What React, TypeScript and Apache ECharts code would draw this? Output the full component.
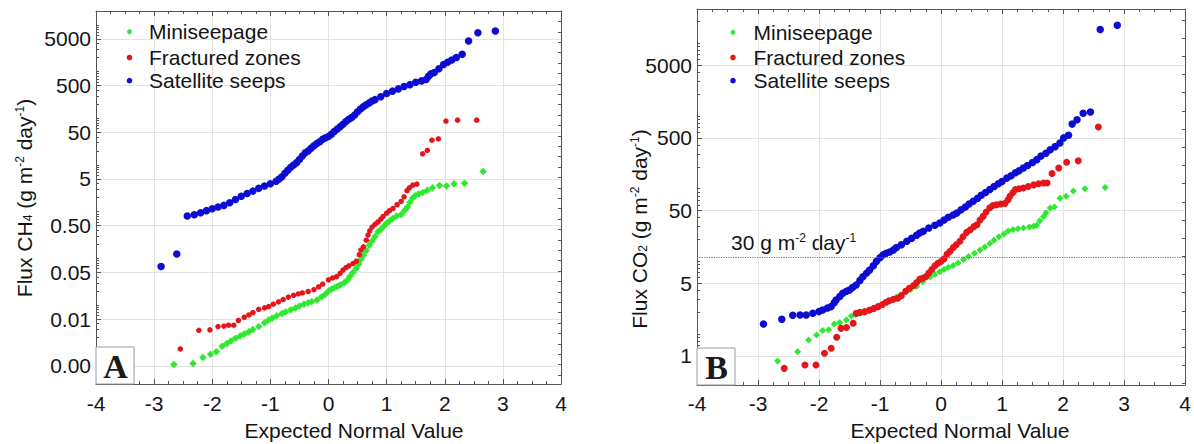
import React, { useEffect, useRef } from "react";
import * as echarts from "echarts";

// ---------- categories / ticks ----------
const legendNames = ["Miniseepage", "Fractured zones", "Satellite seeps"];
const xMinMax = [-4, 4];

const yTickValuesA = [0.0005, 0.005, 0.05, 0.5, 5, 50, 500, 5000];
const yTickLabelsA = ["0.00", "0.01", "0.05", "0.50", "5", "50", "500", "5000"];
const yRangeA = [0.000204, 19770];

const yTickValuesB = [0.5, 5, 50, 500, 5000];
const yTickLabelsB = ["1", "5", "50", "500", "5000"];
const yRangeB = [0.1995, 29650];

// dotted reference line in panel B (position)
const thresholdCO2 = 11.6;

// ---------- Panel A: CH4 flux vs expected normal value ----------
const ch4Miniseepage: [number, number][] = [
  [-2.66, 0.000536], [-2.33, 0.000561], [-2.16, 0.000757], [-2.03, 0.000889], [-1.93, 0.000998],
  [-1.83, 0.00132], [-1.75, 0.00151], [-1.68, 0.00169], [-1.6, 0.00195], [-1.52, 0.00218],
  [-1.45, 0.00239], [-1.37, 0.00269], [-1.3, 0.00301], [-1.2, 0.00346], [-1.1, 0.00416],
  [-1.03, 0.00478], [-0.97, 0.00524], [-0.89, 0.00587], [-0.8, 0.00659], [-0.74, 0.00706],
  [-0.65, 0.00792], [-0.57, 0.00869], [-0.5, 0.00953], [-0.42, 0.01045], [-0.35, 0.0112],
  [-0.29, 0.0117], [-0.2, 0.0129], [-0.12, 0.0148], [-0.06, 0.0169], [0.0, 0.0199],
  [0.05, 0.0218], [0.1, 0.0234], [0.15, 0.0251], [0.2, 0.0269], [0.27, 0.0301],
  [0.33, 0.0346], [0.37, 0.0416], [0.42, 0.05], [0.48, 0.0615], [0.52, 0.0757],
  [0.56, 0.0953], [0.6, 0.117], [0.65, 0.148], [0.7, 0.19], [0.75, 0.234],
  [0.8, 0.294], [0.85, 0.37], [0.9, 0.416], [0.95, 0.489], [1.0, 0.561],
  [1.05, 0.63], [1.1, 0.706], [1.17, 0.811], [1.25, 0.869], [1.31, 1.07],
  [1.36, 1.26], [1.4, 1.58], [1.45, 1.99], [1.49, 2.18], [1.55, 2.39],
  [1.62, 2.56], [1.7, 2.88], [1.79, 3.23], [1.91, 3.62], [2.03, 3.54],
  [2.16, 3.97], [2.34, 4.07], [2.66, 7.24],
];

const ch4Fractured: [number, number][] = [
  [-2.55, 0.00115], [-2.23, 0.00288], [-2.04, 0.00294], [-1.9, 0.00346], [-1.8, 0.00354],
  [-1.72, 0.0037], [-1.63, 0.0037], [-1.55, 0.00467], [-1.45, 0.00548], [-1.37, 0.00615],
  [-1.3, 0.0069], [-1.2, 0.0081], [-1.1, 0.0087], [-1.03, 0.0093], [-0.95, 0.01045],
  [-0.86, 0.0117], [-0.78, 0.0131], [-0.69, 0.0148], [-0.6, 0.0162], [-0.52, 0.0173],
  [-0.45, 0.0182], [-0.35, 0.0195], [-0.25, 0.0213], [-0.17, 0.0245], [-0.1, 0.0281],
  [0.0, 0.0346], [0.07, 0.038], [0.14, 0.0407], [0.2, 0.0477], [0.25, 0.056],
  [0.3, 0.063], [0.35, 0.069], [0.42, 0.0775], [0.48, 0.087], [0.53, 0.12],
  [0.56, 0.151], [0.6, 0.177], [0.65, 0.245], [0.68, 0.315], [0.71, 0.388],
  [0.75, 0.467], [0.8, 0.536], [0.85, 0.6], [0.9, 0.69], [0.94, 0.79],
  [1.0, 0.93], [1.05, 1.05], [1.11, 1.17], [1.18, 1.41], [1.25, 1.66],
  [1.3, 2.08], [1.35, 2.81], [1.39, 3.23], [1.45, 3.71], [1.52, 3.88],
  [1.62, 17.3], [1.7, 20.4], [1.78, 33.8], [1.89, 36.2], [2.02, 87],
  [2.22, 91], [2.55, 91],
];

const ch4Satellite: [number, number][] = [
  [-2.88, 0.067], [-2.61, 0.124], [-2.43, 0.81], [-2.31, 0.86], [-2.2, 0.95],
  [-2.1, 1.05], [-2.0, 1.15], [-1.9, 1.26], [-1.8, 1.36], [-1.7, 1.55],
  [-1.6, 1.82], [-1.5, 2.13], [-1.4, 2.45], [-1.3, 2.75], [-1.2, 3.15],
  [-1.1, 3.54], [-1.0, 3.97], [-0.9, 4.46], [-0.85, 5.0], [-0.8, 5.6],
  [-0.75, 6.6], [-0.7, 7.7], [-0.65, 8.9], [-0.6, 10.0], [-0.55, 11.2],
  [-0.5, 13.1], [-0.45, 15.5], [-0.4, 18.2], [-0.35, 20.0], [-0.3, 22.9],
  [-0.25, 25.6], [-0.2, 28.8], [-0.15, 31.5], [-0.1, 35.4], [-0.05, 38.0],
  [0.0, 40.6], [0.05, 45.6], [0.1, 52], [0.15, 59], [0.2, 66],
  [0.25, 74], [0.3, 85], [0.35, 95], [0.4, 104], [0.45, 117],
  [0.5, 138], [0.55, 158], [0.6, 177], [0.65, 195], [0.7, 213],
  [0.75, 234], [0.8, 250], [0.9, 288], [1.0, 338], [1.1, 380],
  [1.2, 425], [1.3, 477], [1.4, 524], [1.5, 587], [1.6, 630],
  [1.68, 675], [1.72, 792], [1.76, 890], [1.82, 953], [1.9, 1146],
  [1.98, 1410], [2.05, 1580], [2.12, 1770], [2.2, 1990], [2.3, 2340],
  [2.41, 4510], [2.57, 6790], [2.87, 7390],
];

// ---------- Panel B: CO2 flux vs expected normal value ----------
const co2Miniseepage: [number, number][] = [
  [-2.68, 0.426], [-2.35, 0.574], [-2.17, 0.83], [-2.04, 0.975], [-1.94, 1.12],
  [-1.84, 1.15], [-1.75, 1.38], [-1.66, 1.44], [-1.55, 1.56], [-1.47, 1.77],
  [-1.4, 1.86], [-1.33, 1.9], [-1.26, 1.99], [-1.18, 2.08], [-1.1, 2.23],
  [-1.03, 2.39], [-0.96, 2.56], [-0.88, 2.75], [-0.8, 2.94], [-0.73, 3.23],
  [-0.66, 3.46], [-0.58, 3.79], [-0.5, 4.06], [-0.4, 4.5], [-0.3, 5.24],
  [-0.18, 6.1], [-0.1, 6.6], [-0.02, 7.23], [0.05, 7.74], [0.12, 8.3],
  [0.2, 8.79], [0.28, 9.53], [0.37, 10.6], [0.45, 11.7], [0.55, 12.9],
  [0.64, 14.4], [0.72, 15.8], [0.8, 17.7], [0.87, 19.5], [0.95, 21.8],
  [1.03, 23.9], [1.1, 26.2], [1.18, 27.5], [1.26, 28.1], [1.35, 28.8],
  [1.45, 29.8], [1.52, 30.4], [1.57, 31.5], [1.62, 36.2], [1.68, 41.6],
  [1.72, 46.7], [1.79, 54.3], [1.86, 56.1], [1.95, 74.0], [2.05, 78.7],
  [2.17, 93.1], [2.36, 99.8], [2.69, 104],
];

const co2Fractured: [number, number][] = [
  [-2.57, 0.338], [-2.23, 0.376], [-2.05, 0.376], [-1.91, 0.544], [-1.8, 0.638],
  [-1.71, 0.904], [-1.64, 1.2], [-1.55, 1.23], [-1.44, 1.41], [-1.39, 1.93],
  [-1.33, 1.99], [-1.25, 2.04], [-1.17, 2.15], [-1.1, 2.26], [-1.03, 2.39],
  [-0.96, 2.56], [-0.9, 2.75], [-0.85, 2.88], [-0.78, 3.01], [-0.71, 3.11],
  [-0.65, 3.38], [-0.58, 3.88], [-0.52, 4.27], [-0.45, 4.67], [-0.4, 5.12],
  [-0.345, 5.74], [-0.3, 5.87], [-0.25, 6.15], [-0.2, 6.9], [-0.15, 7.74],
  [-0.1, 8.69], [-0.05, 9.42], [0.0, 9.98], [0.05, 10.9], [0.1, 12.6],
  [0.15, 13.8], [0.2, 15.5], [0.25, 16.9], [0.31, 18.9], [0.36, 21.8],
  [0.42, 25.1], [0.48, 27.3], [0.54, 30.1], [0.59, 32.0], [0.64, 37.1],
  [0.69, 41.6], [0.74, 47.8], [0.8, 54.8], [0.85, 58.7], [0.91, 60.1],
  [0.98, 61.5], [1.05, 62.9], [1.1, 70.6], [1.13, 78.7], [1.18, 88.9],
  [1.22, 97.5], [1.28, 99.8], [1.35, 102], [1.43, 107], [1.52, 113],
  [1.6, 117], [1.68, 120], [1.74, 120], [1.82, 162], [1.93, 193],
  [2.06, 231], [2.25, 243], [2.58, 706],
];

const co2Satellite: [number, number][] = [
  [-2.91, 1.38], [-2.61, 1.6], [-2.43, 1.82], [-2.31, 1.83], [-2.21, 1.83],
  [-2.1, 1.93], [-2.0, 2.04], [-1.94, 2.15], [-1.86, 2.29], [-1.8, 2.39],
  [-1.75, 2.69], [-1.72, 2.94], [-1.66, 3.3], [-1.61, 3.64], [-1.55, 3.88],
  [-1.5, 4.05], [-1.45, 4.36], [-1.39, 4.74], [-1.33, 5.48], [-1.28, 6.15],
  [-1.22, 6.9], [-1.17, 7.62], [-1.11, 8.69], [-1.06, 9.98], [-1.0, 11.2],
  [-0.95, 12.3], [-0.9, 12.9], [-0.84, 13.5], [-0.78, 14.4], [-0.73, 15.5],
  [-0.65, 16.9], [-0.56, 18.9], [-0.48, 20.8], [-0.4, 22.9], [-0.35, 24.5],
  [-0.29, 25.9], [-0.2, 28.8], [-0.1, 31.5], [-0.02, 33.8], [0.05, 37.1],
  [0.12, 40.6], [0.2, 43.6], [0.26, 46.3], [0.33, 51.2], [0.4, 56.1],
  [0.46, 61.5], [0.53, 67.1], [0.6, 74.0], [0.66, 81.1], [0.73, 88.9],
  [0.8, 97.5], [0.87, 107], [0.94, 117], [1.0, 126], [1.08, 140],
  [1.15, 151], [1.22, 166], [1.28, 177], [1.35, 193], [1.42, 209],
  [1.5, 229], [1.57, 251], [1.64, 281], [1.72, 308], [1.79, 344],
  [1.87, 379], [1.95, 426], [2.01, 500], [2.09, 543], [2.15, 774],
  [2.23, 889], [2.33, 1094], [2.45, 1135], [2.61, 15450], [2.89, 17740],
];

// ---------- styling ----------
const GREEN = "#2fe82f";
const RED = "#e5161b";
const BLUE = "#0c0cd2";
const FONT = '"Liberation Sans", Arial, Helvetica, sans-serif';
const GRID_COLOR = "#e3e3e3";
const FRAME_COLOR = "#555555";
const TEXT_COLOR = "#141414";

const LOG = (v: number) => Math.log10(v);

function xAxesFor(gridIndex: number, labelMargin: number) {
  const common = {
    type: "value",
    gridIndex,
    min: xMinMax[0],
    max: xMinMax[1],
    interval: 1,
    axisLine: { show: true, onZero: false, lineStyle: { color: FRAME_COLOR, width: 1 } },
    axisTick: { show: true, inside: true, length: 5, lineStyle: { color: FRAME_COLOR } },
    minorTick: { show: true, splitNumber: 4, length: 3, lineStyle: { color: FRAME_COLOR } },
    minorSplitLine: { show: false },
  };
  return [
    {
      ...common,
      position: "bottom",
      axisLabel: { show: true, fontSize: 21, color: TEXT_COLOR, fontFamily: FONT, margin: labelMargin },
      splitLine: { show: true, lineStyle: { color: GRID_COLOR, width: 1 } },
    },
    {
      ...common,
      position: "top",
      axisLabel: { show: false },
      splitLine: { show: false },
    },
  ];
}

function yAxesFor(
  gridIndex: number,
  range: number[],
  tickValues: number[],
  tickLabels: string[],
  rightStart: number,
  rightStep: number
) {
  const lo = LOG(range[0]);
  const hi = LOG(range[1]);
  const major = tickValues.map(LOG);
  const minor: number[] = [];
  for (let n = -5; n <= 5; n++) {
    for (let k = 1; k <= 9; k++) {
      if (k === 5) continue;
      const val = Math.log10(k) + n;
      if (val > lo && val < hi) minor.push(val);
    }
  }
  const right: number[] = [];
  for (let val = rightStart; val < hi; val += rightStep) if (val > lo) right.push(val);
  const base = { type: "value", gridIndex, min: lo, max: hi };
  return [
    {
      ...base,
      position: "left",
      axisLine: { show: true, onZero: false, lineStyle: { color: FRAME_COLOR, width: 1 } },
      axisTick: { show: true, inside: true, length: 5, customValues: major, lineStyle: { color: FRAME_COLOR } },
      axisLabel: {
        show: true,
        customValues: major,
        fontSize: 21,
        color: TEXT_COLOR,
        fontFamily: FONT,
        margin: 5,
        formatter: (v: number) => {
          const i = major.findIndex((m) => Math.abs(m - v) < 1e-6);
          return i >= 0 ? tickLabels[i] : "";
        },
      },
      splitLine: { show: true, lineStyle: { color: GRID_COLOR, width: 1 } },
    },
    {
      ...base,
      position: "right",
      axisLine: { show: true, onZero: false, lineStyle: { color: FRAME_COLOR, width: 1 } },
      axisTick: { show: true, inside: true, length: 3, customValues: right, lineStyle: { color: FRAME_COLOR } },
      axisLabel: { show: false },
      splitLine: { show: false },
    },
    {
      ...base,
      position: "left",
      axisLine: { show: false, onZero: false },
      axisTick: { show: true, inside: true, length: 3, customValues: minor, lineStyle: { color: FRAME_COLOR } },
      axisLabel: { show: false },
      splitLine: { show: false },
    },
  ];
}

function scatter(
  name: string,
  data: [number, number][],
  panel: number,
  color: string,
  symbol: string,
  size: number,
  extra: any = {}
) {
  return {
    type: "scatter",
    name,
    xAxisIndex: panel * 2,
    yAxisIndex: panel * 3,
    data: data.map(([x, v]) => [x, LOG(v)]),
    symbol,
    symbolSize: size,
    itemStyle: { color, opacity: 1 },
    silent: true,
    ...extra,
  };
}

const richStyles = {
  n: { fontSize: 21, fontFamily: FONT, fill: TEXT_COLOR, lineHeight: 20 },
  sup: { fontSize: 12, fontFamily: FONT, fill: TEXT_COLOR, lineHeight: 12, verticalAlign: "top" },
  sub: { fontSize: 12, fontFamily: FONT, fill: TEXT_COLOR, lineHeight: 7, verticalAlign: "bottom" },
};

function legendGraphics(cx: number, tx: number, ys: number[]) {
  const colors = [GREEN, RED, BLUE];
  const radii = [2.4, 2.8, 2.8];
  const out: any[] = [];
  legendNames.forEach((name, i) => {
    out.push({ type: "circle", shape: { cx, cy: ys[i], r: radii[i] }, style: { fill: colors[i] }, silent: true, z: 10 });
    out.push({
      type: "text",
      x: tx,
      y: ys[i],
      style: { text: name, fontSize: 21, fontFamily: FONT, fill: TEXT_COLOR, align: "left", verticalAlign: "middle" },
      silent: true,
      z: 10,
    });
  });
  return out;
}

function panelBox(x: number, y: number, letter: string) {
  return [
    {
      type: "rect",
      shape: { x, y, width: 38, height: 37 },
      style: { fill: "#ffffff", stroke: "#9a9a9a", lineWidth: 1 },
      silent: true,
      z: 20,
    },
    {
      type: "text",
      x: x + 19.5,
      y: y + 19,
      style: {
        text: letter,
        fontSize: 34,
        fontWeight: "bold",
        fontFamily: '"Liberation Serif", "Times New Roman", serif',
        fill: "#1a1a1a",
        align: "center",
        verticalAlign: "middle",
      },
      silent: true,
      z: 21,
    },
  ];
}

export default function App() {
  const ref = useRef<HTMLDivElement | null>(null);

  useEffect(() => {
    if (!ref.current) return;
    const chart = echarts.init(ref.current, null, { renderer: "svg" });

    const option: any = {
      animation: false,
      backgroundColor: "#ffffff",
      grid: [
        { left: 96, top: 11, width: 465, height: 373, containLabel: false },
        { left: 697, top: 9, width: 488, height: 376, containLabel: false },
      ],
      xAxis: [...xAxesFor(0, 9), ...xAxesFor(1, 8)],
      yAxis: [
        ...yAxesFor(0, yRangeA, yTickValuesA, yTickLabelsA, -3.498, 0.2227),
        ...yAxesFor(1, yRangeB, yTickValuesB, yTickLabelsB, -0.68, 0.25),
      ],
      series: [
        scatter(legendNames[0], ch4Miniseepage, 0, GREEN, "diamond", 7.5),
        scatter(legendNames[1], ch4Fractured, 0, RED, "circle", 5.5),
        scatter(legendNames[2], ch4Satellite, 0, BLUE, "circle", 7.5),
        scatter(legendNames[0], co2Miniseepage, 1, GREEN, "diamond", 7),
        scatter(legendNames[1], co2Fractured, 1, RED, "circle", 7),
        scatter(legendNames[2], co2Satellite, 1, BLUE, "circle", 7.5, {
          markLine: {
            silent: true,
            symbol: ["none", "none"],
            label: { show: false },
            lineStyle: { type: "dotted", color: "#777777", width: 1.2 },
            data: [{ yAxis: LOG(thresholdCO2) }],
          },
        }),
      ],
      graphic: [
        {
          type: "text",
          x: 354,
          y: 430,
          style: { text: "Expected Normal Value", fontSize: 21, fontFamily: FONT, fill: TEXT_COLOR, align: "center", verticalAlign: "middle" },
          silent: true,
        },
        {
          type: "text",
          x: 960,
          y: 430,
          style: { text: "Expected Normal Value", fontSize: 21, fontFamily: FONT, fill: TEXT_COLOR, align: "center", verticalAlign: "middle" },
          silent: true,
        },
        {
          type: "text",
          x: 24,
          y: 198,
          rotation: Math.PI / 2,
          style: {
            text: "{n|Flux CH}{sub|4}{n| (g m}{sup|-2}{n| day}{sup|-1}{n|)}",
            rich: richStyles,
            align: "center",
            verticalAlign: "middle",
          },
          silent: true,
        },
        {
          type: "text",
          x: 639,
          y: 229,
          rotation: Math.PI / 2,
          style: {
            text: "{n|Flux CO}{sub|2}{n| (g m}{sup|-2}{n| day}{sup|-1}{n|)}",
            rich: richStyles,
            align: "center",
            verticalAlign: "middle",
          },
          silent: true,
        },
        {
          type: "text",
          x: 731,
          y: 242,
          style: {
            text: "{n|30 g m}{sup|-2}{n| day}{sup|-1}",
            rich: richStyles,
            align: "left",
            verticalAlign: "middle",
          },
          silent: true,
        },
        ...legendGraphics(129.5, 149, [31.7, 57.5, 80.7]),
        ...legendGraphics(733, 753.5, [32.3, 57.5, 80.7]),
        ...panelBox(96, 347, "A"),
        ...panelBox(697, 348, "B"),
      ],
    };

    chart.setOption(option);
    return () => chart.dispose();
  }, []);

  return (
    <div
      ref={ref}
      style={{ position: "absolute", left: 0, top: 0, width: 1194, height: 444, background: "#ffffff" }}
    />
  );
}
